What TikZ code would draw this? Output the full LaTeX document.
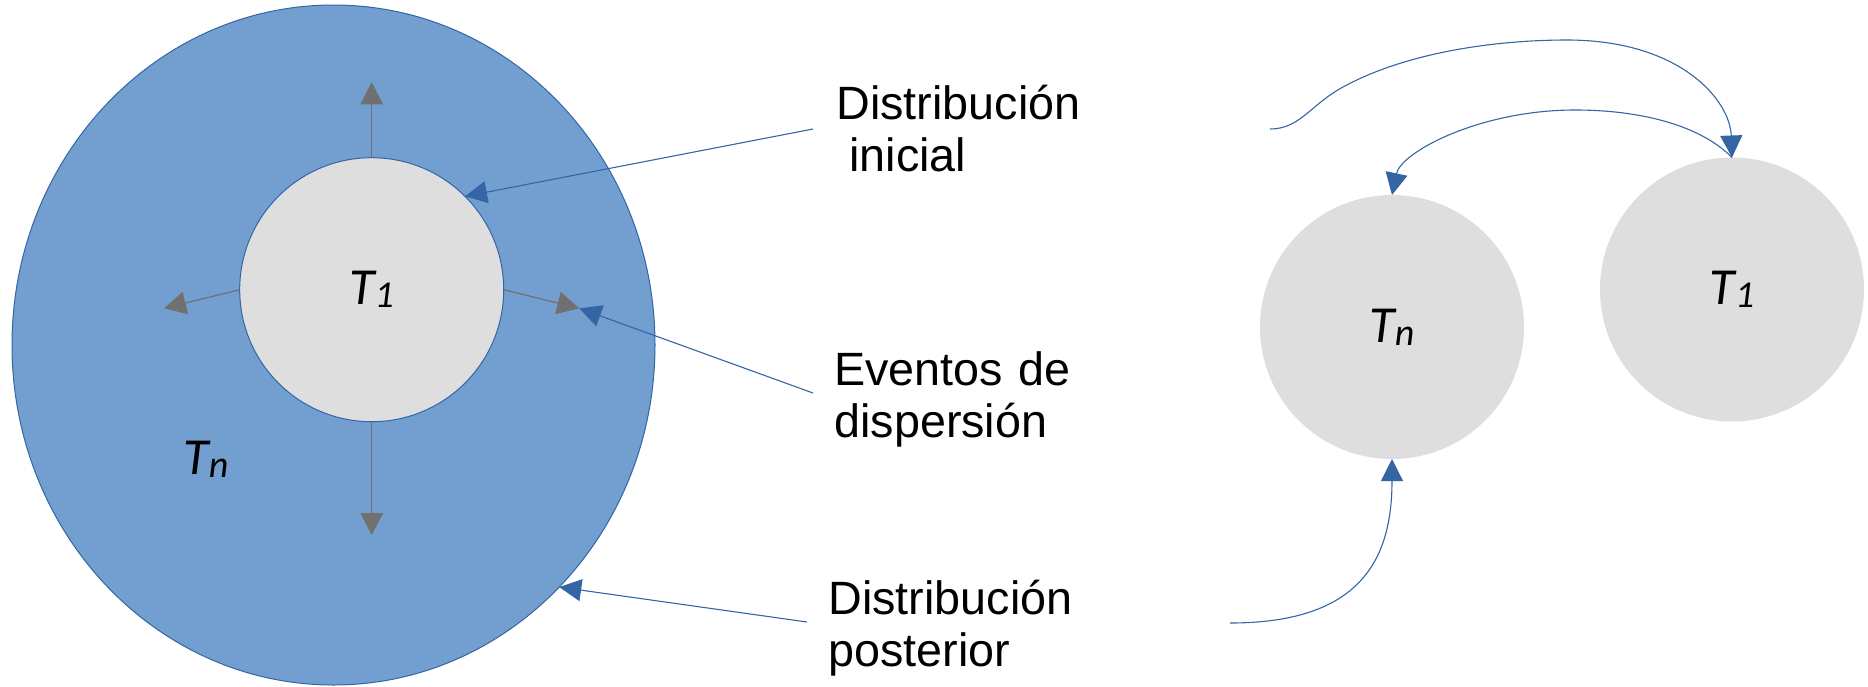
\documentclass[tikz,border=0pt]{standalone}
\usepackage{fontspec}
\setmainfont{Liberation Sans}
\newfontfamily\labfont{Carlito}
\usetikzlibrary{arrows.meta,shapes.geometric}
\definecolor{cfill}{HTML}{729FCF}
\definecolor{cline}{HTML}{3465A4}
\definecolor{cgrey}{HTML}{DEDEDE}
\definecolor{carrow}{HTML}{707070}
\newcommand{\Tlab}[1]{{\labfont\itshape\fontsize{26}{26}\selectfont T\raisebox{-1.5pt}{\fontsize{19}{19}\selectfont #1}}}
\begin{document}
\begin{tikzpicture}[x=0.5pt,y=-0.5pt,
  graytip/.style={-{Triangle[width=11.3pt,length=11pt]}, draw=carrow, line width=0.6pt},
  bluetip/.style={-{Triangle[width=11pt,length=11pt]}, draw=cline, line width=0.55pt},
  lbl/.style={font=\fontsize{23.35}{26.2}\selectfont, text width=150pt, align=left, inner sep=0pt, anchor=base west},
  disc/.style={circle, minimum size=132pt, inner sep=0pt, outer sep=0pt},
  ]
\useasboundingbox (0,0) rectangle (1868,686);
% left: big population and inner one
\node[ellipse, draw=cline, line width=0.5pt, fill=cfill, minimum width=321.5pt, minimum height=340pt, inner sep=0pt, outer sep=0pt] (Tbig) at (333.5,345) {};
\node (Tnlab) at (206,459) {\Tlab{n}};
\node[disc, draw=cline, line width=0.5pt, fill=cgrey] (T1in) at (371.7,289.7) {\Tlab{1}};
% dispersal arrows
\coordinate (gu) at (371.7,82.3);
\coordinate (gd) at (371.7,535);
\coordinate (gl) at (164,308.3);
\coordinate (gr) at (579.3,308.3);
\draw[graytip] (T1in.north) -- (gu);
\draw[graytip] (T1in.south) -- (gd);
\draw[graytip] (T1in.west) -- (gl);
\draw[graytip] (T1in.east) -- (gr);
% labels
\node[lbl] (tIni) at (836,119.3) {Distribución\\\hspace*{6.5pt}inicial};
\node[lbl] (tEve) at (834,385) {Eventos de\\dispersión};
\node[lbl] (tPos) at (828,614) {Distribución\\posterior};
\coordinate (sIni) at (813,129);
\coordinate (sEve) at (813,393);
\coordinate (sPos) at (807,622);
\draw[bluetip] (sIni) -- (T1in.45);
\draw[bluetip] (sEve) -- (gr);
\draw[bluetip] (sPos) -- (Tbig.-47);
% right: two populations
\node[disc, fill=cgrey] (Tnr) at (1392,327) {\Tlab{n}};
\node[disc, fill=cgrey] (T1r) at (1732,289.5) {\Tlab{1}};
\coordinate (cA) at (1270,129);
\coordinate (cC) at (1230,623);
\draw[bluetip] (cA) .. controls (1300,129) and (1310,105) .. (1343,87)
  .. controls (1409,51) and (1500,40) .. (1567,40)
  .. controls (1680,40) and (1730,100) .. (T1r.north);
\draw[bluetip] (T1r.north) .. controls (1700,125) and (1640,110) .. (1575,110)
  .. controls (1480,110) and (1401,152) .. (Tnr.north);
\draw[bluetip] (cC) .. controls (1360,623) and (1392,560) .. (Tnr.south);
\end{tikzpicture}
\end{document}
